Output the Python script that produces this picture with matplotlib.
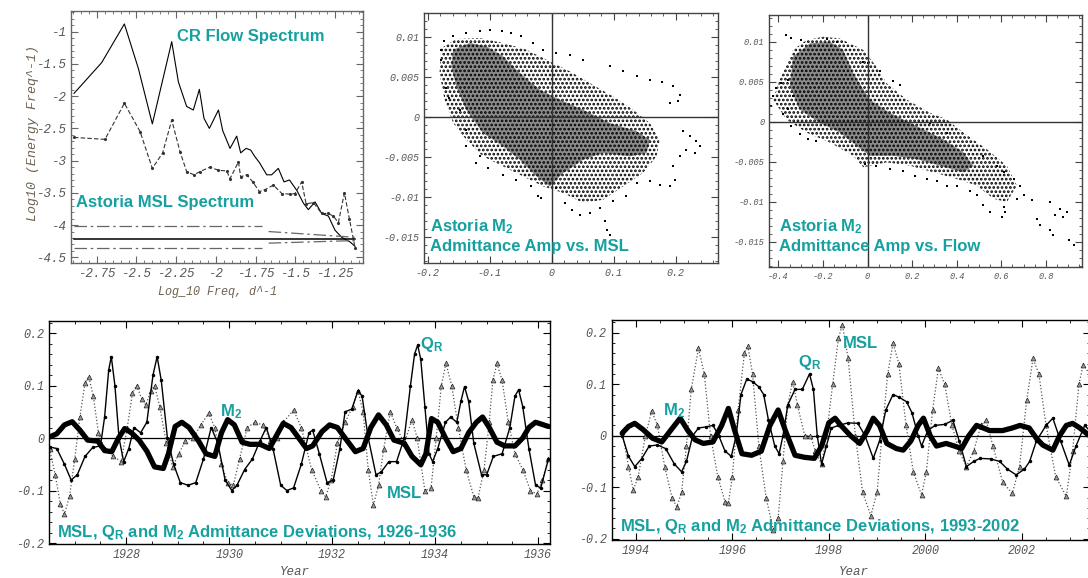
import matplotlib
matplotlib.use('Agg')
import matplotlib.pyplot as plt
from matplotlib.patches import Polygon
from matplotlib.ticker import MultipleLocator, FuncFormatter

W, H = 1088, 578
TEAL = '#16a0a0'
TICK = '#555555'

# ---------------- spectra (log10 freq, log10 energy) ----------------
flow_logf = [-2.893, -2.719, -2.576, -2.488, -2.400, -2.278, -2.236, -2.184, -2.142, -2.104,
             -2.075, -2.041, -1.984, -1.957, -1.911, -1.869, -1.844, -1.810, -1.781, -1.754,
             -1.726, -1.680, -1.649, -1.607, -1.571, -1.537, -1.491, -1.449, -1.418, -1.376,
             -1.334, -1.292, -1.250, -1.208, -1.156, -1.124]
flow_loge = [-1.957, -1.48, -0.88, -1.57, -2.43, -1.155, -1.78, -2.16, -2.215, -1.895,
             -2.344, -2.50, -2.215, -2.535, -2.81, -2.62, -2.88, -2.81, -2.836, -2.94,
             -3.03, -3.22, -3.22, -3.12, -3.33, -3.30, -3.46, -3.66, -3.76, -3.64,
             -3.82, -3.86, -4.08, -4.19, -4.26, -4.33]
msl_logf = [-2.893, -2.698, -2.576, -2.477, -2.400, -2.335, -2.278, -2.226, -2.184, -2.138,
            -2.100, -2.037, -1.984, -1.932, -1.911, -1.858, -1.844, -1.806, -1.768, -1.726,
            -1.691, -1.638, -1.585, -1.533, -1.502, -1.460, -1.432, -1.386, -1.334, -1.292,
            -1.261, -1.229, -1.191, -1.160, -1.124]
msl_loge = [-2.64, -2.67, -2.11, -2.55, -3.12, -2.88, -2.37, -2.86, -3.17, -3.22,
            -3.17, -3.10, -3.15, -3.16, -3.28, -3.02, -3.25, -3.22, -3.33, -3.48,
            -3.45, -3.38, -3.51, -3.52, -3.51, -3.33, -3.67, -3.65, -3.82, -3.82,
            -3.86, -3.96, -3.50, -3.90, -4.35]
conf_f = [-2.893, -1.124]
conf_mid = -4.216
conf_seg_f = [[-2.893, -1.712], [-1.668, -1.124]]
conf_hi_e = [[-4.015, -4.015], [-4.10, -4.19]]
conf_lo_e = [[-4.36, -4.36], [-4.28, -4.24]]

# ---------------- M2 admittance vs MSL scatter ----------------
msl_cloud = [(-0.178, 0.00858), (-0.154, 0.00971), (-0.116, 0.00983), (-0.0785, 0.00921),
             (-0.0409, 0.00838), (-0.0032, 0.00692), (0.029, 0.00567), (0.0613, 0.00421),
             (0.0989, 0.00254), (0.131, 0.000875), (0.158, -0.00079), (0.174, -0.00288),
             (0.169, -0.00496), (0.147, -0.00704), (0.115, -0.00871), (0.0828, -0.01038),
             (0.0505, -0.01079), (0.0183, -0.00954), (-0.014, -0.00871), (-0.0462, -0.00746),
             (-0.0785, -0.00621), (-0.111, -0.00496), (-0.138, -0.00288), (-0.159, -0.00079),
             (-0.173, 0.00213), (-0.181, 0.00546)]
msl_core = [(-0.159, 0.00838), (-0.132, 0.00921), (-0.105, 0.00879), (-0.0785, 0.00754),
            (-0.0516, 0.00546), (-0.0194, 0.00338), (0.0129, 0.00213), (0.0505, 0.000875),
            (0.0935, -0.00079), (0.137, -0.00183), (0.158, -0.00288), (0.153, -0.00454),
            (0.126, -0.00496), (0.0828, -0.00454), (0.0505, -0.00538), (0.0183, -0.00704),
            (-0.0032, -0.00871), (-0.0247, -0.00746), (-0.0516, -0.00538), (-0.0785, -0.00371),
            (-0.111, -0.00204), (-0.138, 0.000875), (-0.154, 0.00379), (-0.162, 0.00629)]
msl_pts = [(-0.178, 0.00713), (-0.179, 0.00838), (-0.173, 0.00942), (-0.159, 0.01004),
           (-0.138, 0.01046), (-0.116, 0.01067), (-0.100, 0.01079), (-0.081, 0.01067),
           (-0.065, 0.01046), (-0.049, 0.01004), (-0.030, 0.00921), (-0.014, 0.00838),
           (0.0075, 0.00796), (0.029, 0.00775), (0.0505, 0.00713), (0.0935, 0.00629),
           (0.115, 0.00567), (0.137, 0.00504), (0.158, 0.00463), (0.177, 0.00429),
           (0.196, 0.00379), (0.206, 0.00275), (0.204, 0.00192), (0.190, 0.00171),
           (0.212, -0.00183), (0.223, -0.00246), (0.233, -0.00308), (0.239, -0.00371),
           (0.231, -0.00454), (0.217, -0.00413), (0.206, -0.00496), (0.196, -0.00621),
           (0.198, -0.00788), (0.190, -0.00871), (0.174, -0.0085), (0.158, -0.00808),
           (0.137, -0.00829), (0.120, -0.00996), (0.099, -0.01058), (0.077, -0.01142),
           (0.061, -0.01204), (0.045, -0.01225), (0.032, -0.01163), (0.021, -0.01079),
           (0.0075, -0.00892), (-0.017, -0.01017), (-0.022, -0.00996), (-0.033, -0.00871),
           (-0.057, -0.00788), (-0.0785, -0.00725), (-0.103, -0.00642), (-0.122, -0.00579),
           (-0.148, 0.000875), (-0.165, 0.00233), (-0.171, 0.00358), (-0.138, -0.00163),
           (-0.138, -0.00371), (-0.116, -0.00496), (0.0855, -0.01308), (0.089, -0.01413),
           (0.0935, -0.01475)]

# ---------------- M2 admittance vs flow scatter ----------------
flow_cloud = [(-0.424, 0.00277), (-0.394, 0.00525), (-0.334, 0.00897), (-0.274, 0.01021),
              (-0.199, 0.01062), (-0.124, 0.01041), (-0.019, 0.00897), (0.040, 0.00690),
              (0.085, 0.00483), (0.175, 0.00277), (0.280, 0.00112), (0.355, 0.00029),
              (0.430, -0.00136), (0.535, -0.00343), (0.625, -0.00550), (0.670, -0.00798),
              (0.625, -0.01004), (0.565, -0.00963), (0.490, -0.00798), (0.400, -0.00715),
              (0.295, -0.00632), (0.190, -0.00550), (0.085, -0.00508), (-0.019, -0.00570),
              (-0.064, -0.00426), (-0.169, -0.00260), (-0.274, -0.00136), (-0.364, 0.00029)]
flow_core = [(-0.334, 0.00814), (-0.259, 0.00979), (-0.169, 0.01000), (-0.109, 0.00897),
             (-0.064, 0.00607), (0.0105, 0.00277), (0.100, 0.00112), (0.220, -0.00054),
             (0.340, -0.00219), (0.430, -0.00384), (0.475, -0.00550), (0.430, -0.00632),
             (0.325, -0.00550), (0.220, -0.00467), (0.115, -0.00426), (0.0105, -0.00426),
             (-0.049, -0.00302), (-0.124, -0.00136), (-0.214, -0.00012), (-0.304, 0.00153),
             (-0.349, 0.00442)]
flow_pts = [(-0.431, 0.00194), (-0.424, 0.00318), (-0.409, 0.00421), (-0.387, 0.00483),
            (-0.357, 0.00525), (-0.334, 0.00318), (-0.357, 0.00153), (-0.379, 0.00091),
            (-0.342, -0.00054), (-0.304, -0.00157), (-0.267, -0.00219), (-0.229, -0.00240),
            (-0.364, 0.01083), (-0.342, 0.01041), (-0.297, 0.01021), (-0.184, 0.01029),
            (-0.139, 0.01000), (-0.019, 0.00752), (0.003, 0.00731), (0.055, 0.00628),
            (0.115, 0.00504), (0.145, 0.00463), (0.280, -0.00012), (0.355, -0.00136),
            (0.520, -0.00426), (0.580, -0.00550), (0.610, -0.00632), (0.655, -0.00715),
            (0.685, -0.00798), (0.670, -0.00963), (0.700, -0.00921), (0.737, -0.00983),
            (0.760, -0.01211), (0.775, -0.01293), (0.819, -0.01004), (0.842, -0.01169),
            (0.864, -0.01087), (0.879, -0.01190), (0.894, -0.01128), (0.902, -0.01479),
            (0.924, -0.01541), (0.819, -0.01355), (0.834, -0.01417), (0.610, -0.01066),
            (0.617, -0.01128), (0.602, -0.01190), (0.550, -0.01128), (0.520, -0.01045),
            (0.490, -0.00921), (0.460, -0.00860), (0.400, -0.00798), (0.355, -0.00798),
            (0.310, -0.00736), (0.265, -0.00715), (0.213, -0.00674), (0.160, -0.00612),
            (0.100, -0.00591), (0.040, -0.00550), (-0.012, -0.00529)]

# ---------------- deviation time series 1926-1936 (year, value) ----------------
ts1_msl = [(1926.51, -0.02), (1926.62, -0.07), (1926.72, -0.125), (1926.80, -0.145), (1926.90, -0.11),
           (1927.00, -0.04), (1927.10, 0.04), (1927.20, 0.105), (1927.27, 0.117), (1927.36, 0.08),
           (1927.46, 0.01), (1927.58, -0.02), (1927.75, -0.035), (1927.90, -0.045), (1928.02, 0.02),
           (1928.12, 0.085), (1928.20, 0.10), (1928.30, 0.075), (1928.38, 0.063), (1928.48, 0.09),
           (1928.55, 0.10), (1928.65, 0.06), (1928.78, -0.01), (1928.90, -0.055), (1929.02, -0.03),
           (1929.15, -0.005), (1929.30, 0.0), (1929.45, 0.025), (1929.60, 0.047), (1929.72, 0.02),
           (1929.85, -0.05), (1929.97, -0.085), (1930.08, -0.09), (1930.20, -0.04), (1930.35, 0.02),
           (1930.50, 0.03), (1930.65, 0.025), (1930.80, -0.005), (1930.92, 0.0), (1931.05, 0.03),
           (1931.25, 0.053), (1931.40, 0.02), (1931.60, -0.06), (1931.78, -0.10), (1931.87, -0.112),
           (1931.98, -0.08), (1932.10, -0.01), (1932.25, 0.03), (1932.40, 0.06), (1932.50, 0.09),
           (1932.60, 0.05), (1932.70, -0.06), (1932.80, -0.128), (1932.90, -0.09), (1933.00, -0.02),
           (1933.13, 0.05), (1933.25, 0.02), (1933.40, -0.01), (1933.55, 0.035), (1933.65, 0.0),
           (1933.80, -0.10), (1933.92, -0.095), (1934.02, 0.0), (1934.12, 0.10), (1934.21, 0.142),
           (1934.32, 0.10), (1934.45, 0.02), (1934.60, -0.06), (1934.75, -0.112), (1934.83, -0.115),
           (1934.95, -0.06), (1935.05, 0.03), (1935.12, 0.11), (1935.20, 0.142), (1935.30, 0.11),
           (1935.42, 0.03), (1935.55, -0.03), (1935.70, -0.06), (1935.85, -0.10), (1935.98, -0.107),
           (1936.08, -0.08), (1936.20, -0.04)]
ts1_qr = [(1926.51, -0.017), (1926.65, -0.02), (1926.80, -0.05), (1926.93, -0.08), (1927.05, -0.07),
          (1927.20, -0.035), (1927.35, -0.018), (1927.50, -0.015), (1927.58, 0.04), (1927.66, 0.13),
          (1927.71, 0.155), (1927.78, 0.10), (1927.86, 0.0), (1927.95, -0.045), (1928.05, -0.02),
          (1928.15, 0.02), (1928.28, 0.01), (1928.40, 0.03), (1928.52, 0.12), (1928.60, 0.155),
          (1928.68, 0.11), (1928.80, 0.0), (1928.92, -0.05), (1929.05, -0.085), (1929.20, -0.09),
          (1929.35, -0.085), (1929.50, -0.04), (1929.65, 0.02), (1929.78, -0.01), (1929.92, -0.08),
          (1930.05, -0.10), (1930.15, -0.09), (1930.30, -0.06), (1930.45, -0.04), (1930.60, -0.005),
          (1930.72, 0.02), (1930.85, -0.02), (1931.00, -0.09), (1931.12, -0.10), (1931.25, -0.095),
          (1931.40, -0.05), (1931.55, 0.01), (1931.62, 0.015), (1931.75, -0.03), (1931.90, -0.085),
          (1932.02, -0.08), (1932.15, -0.02), (1932.25, 0.05), (1932.38, 0.055), (1932.50, 0.09),
          (1932.58, 0.08), (1932.70, 0.0), (1932.85, -0.07), (1932.95, -0.065), (1933.10, -0.045),
          (1933.25, -0.045), (1933.40, 0.0), (1933.52, 0.10), (1933.60, 0.16), (1933.66, 0.177),
          (1933.72, 0.15), (1933.80, 0.06), (1933.88, -0.03), (1933.95, -0.045), (1934.05, -0.02),
          (1934.20, 0.03), (1934.30, 0.04), (1934.42, 0.03), (1934.50, 0.07), (1934.57, 0.098),
          (1934.65, 0.07), (1934.75, -0.01), (1934.90, -0.07), (1935.00, -0.07), (1935.13, -0.035),
          (1935.30, -0.03), (1935.45, 0.02), (1935.55, 0.08), (1935.62, 0.092), (1935.70, 0.06),
          (1935.82, -0.02), (1935.95, -0.09), (1936.05, -0.095), (1936.20, -0.04)]
ts1_m2 = [(1926.51, 0.002), (1926.65, 0.008), (1926.80, 0.025), (1926.95, 0.031), (1927.10, 0.015),
          (1927.25, -0.004), (1927.45, -0.006), (1927.58, -0.024), (1927.72, -0.026), (1927.85, 0.0),
          (1927.97, 0.018), (1928.10, 0.01), (1928.25, -0.004), (1928.40, -0.025), (1928.55, -0.055),
          (1928.72, -0.058), (1928.82, -0.03), (1928.95, 0.022), (1929.08, 0.03), (1929.22, 0.02),
          (1929.40, -0.005), (1929.55, -0.03), (1929.72, -0.035), (1929.85, 0.01), (1929.97, 0.035),
          (1930.10, 0.025), (1930.25, -0.008), (1930.40, -0.012), (1930.60, -0.012), (1930.78, -0.02),
          (1930.92, 0.005), (1931.05, 0.028), (1931.20, 0.02), (1931.35, 0.0), (1931.50, -0.02),
          (1931.62, -0.015), (1931.80, 0.012), (1931.95, 0.025), (1932.10, 0.02), (1932.25, 0.0),
          (1932.45, -0.026), (1932.60, -0.02), (1932.75, 0.02), (1932.90, 0.044), (1933.05, 0.025),
          (1933.20, -0.004), (1933.40, -0.01), (1933.55, -0.035), (1933.72, -0.051), (1933.82, -0.03),
          (1933.93, 0.037), (1934.05, 0.03), (1934.20, 0.0), (1934.35, -0.026), (1934.50, -0.02),
          (1934.65, 0.01), (1934.80, 0.03), (1934.92, 0.04), (1935.05, 0.02), (1935.20, -0.008),
          (1935.35, -0.015), (1935.55, -0.015), (1935.70, 0.0), (1935.82, 0.02), (1935.95, 0.03),
          (1936.20, 0.022)]

# ---------------- deviation time series 1993-2003 (year, value) ----------------
ts2_msl = [(1993.72, 0.008), (1993.85, -0.06), (1993.95, -0.105), (1994.05, -0.08), (1994.20, 0.0),
           (1994.33, 0.048), (1994.45, 0.02), (1994.60, -0.06), (1994.75, -0.12), (1994.85, -0.138),
           (1994.95, -0.11), (1995.05, -0.02), (1995.15, 0.09), (1995.30, 0.17), (1995.42, 0.12),
           (1995.55, 0.0), (1995.70, -0.08), (1995.85, -0.128), (1995.92, -0.13), (1996.00, -0.08),
           (1996.12, 0.05), (1996.25, 0.16), (1996.32, 0.175), (1996.42, 0.12), (1996.55, -0.02),
           (1996.70, -0.12), (1996.85, -0.183), (1996.95, -0.16), (1997.05, -0.05), (1997.15, 0.06),
           (1997.25, 0.105), (1997.35, 0.06), (1997.50, 0.0), (1997.62, 0.0), (1997.72, -0.03),
           (1997.85, -0.055), (1997.95, 0.0), (1998.08, 0.10), (1998.20, 0.19), (1998.28, 0.215),
           (1998.40, 0.15), (1998.55, 0.0), (1998.70, -0.11), (1998.87, -0.155), (1999.00, -0.11),
           (1999.10, 0.0), (1999.22, 0.12), (1999.33, 0.18), (1999.45, 0.14), (1999.60, 0.02),
           (1999.75, -0.07), (1999.92, -0.115), (2000.02, -0.07), (2000.15, 0.05), (2000.27, 0.131),
           (2000.40, 0.10), (2000.55, 0.02), (2000.70, -0.03), (2000.85, -0.06), (2001.00, -0.03),
           (2001.15, 0.02), (2001.26, 0.03), (2001.40, -0.02), (2001.60, -0.09), (2001.80, -0.112),
           (2001.95, -0.06), (2002.10, 0.07), (2002.23, 0.15), (2002.35, 0.12), (2002.50, 0.02),
           (2002.70, -0.08), (2002.92, -0.118), (2003.05, -0.03), (2003.18, 0.10), (2003.27, 0.138),
           (2003.40, 0.12)]
ts2_qr = [(1993.72, 0.0), (1993.85, -0.04), (1993.98, -0.06), (1994.12, -0.045), (1994.28, -0.02),
          (1994.45, -0.018), (1994.62, -0.025), (1994.80, -0.055), (1994.95, -0.07), (1995.05, -0.05),
          (1995.18, 0.0), (1995.30, 0.015), (1995.45, 0.017), (1995.60, 0.02), (1995.72, 0.0),
          (1995.85, -0.03), (1995.98, -0.04), (1996.08, 0.0), (1996.18, 0.08), (1996.30, 0.11),
          (1996.42, 0.105), (1996.55, 0.095), (1996.65, 0.08), (1996.75, 0.03), (1996.88, -0.02),
          (1996.97, -0.035), (1997.05, 0.0), (1997.15, 0.06), (1997.30, 0.09), (1997.45, 0.09),
          (1997.60, 0.12), (1997.68, 0.09), (1997.76, 0.0), (1997.85, -0.055), (1997.95, -0.02),
          (1998.05, 0.015), (1998.20, 0.02), (1998.40, 0.025), (1998.60, 0.024), (1998.75, 0.0),
          (1998.92, -0.044), (1999.05, -0.01), (1999.18, 0.05), (1999.33, 0.08), (1999.45, 0.075),
          (1999.61, 0.066), (1999.72, 0.045), (1999.85, 0.0), (1999.92, -0.02), (2000.05, 0.01),
          (2000.20, 0.02), (2000.40, 0.022), (2000.57, 0.03), (2000.70, -0.01), (2000.85, -0.06),
          (2001.00, -0.05), (2001.13, -0.044), (2001.35, -0.045), (2001.54, -0.05), (2001.70, -0.065),
          (2001.88, -0.076), (2002.05, -0.065), (2002.16, -0.05), (2002.30, -0.01), (2002.50, 0.02),
          (2002.64, 0.034), (2002.80, -0.01), (2002.98, -0.057), (2003.12, -0.02), (2003.30, 0.02),
          (2003.40, 0.01)]
ts2_m2 = [(1993.72, 0.005), (1993.85, 0.018), (1993.98, 0.024), (1994.15, 0.012), (1994.35, -0.005),
          (1994.54, -0.012), (1994.72, 0.01), (1994.92, 0.034), (1995.08, 0.01), (1995.23, -0.008),
          (1995.40, -0.015), (1995.60, -0.012), (1995.78, 0.02), (1995.92, 0.053), (1996.05, 0.01),
          (1996.20, -0.035), (1996.40, -0.038), (1996.60, -0.03), (1996.78, 0.02), (1996.95, 0.05),
          (1997.10, 0.01), (1997.30, -0.038), (1997.50, -0.042), (1997.70, -0.044), (1997.85, -0.02),
          (1998.00, 0.025), (1998.13, 0.034), (1998.25, 0.02), (1998.45, 0.0), (1998.64, -0.015),
          (1998.80, 0.01), (1998.92, 0.034), (1999.05, 0.02), (1999.20, -0.015), (1999.40, -0.025),
          (1999.54, -0.028), (1999.70, -0.01), (1999.85, 0.02), (1999.96, 0.034), (2000.10, 0.0),
          (2000.23, -0.02), (2000.43, -0.015), (2000.60, -0.02), (2000.75, -0.025), (2000.90, 0.0),
          (2001.06, 0.02), (2001.20, 0.015), (2001.33, 0.01), (2001.60, 0.01), (2001.80, 0.015),
          (2001.96, 0.02), (2002.15, 0.015), (2002.30, -0.005), (2002.43, -0.018), (2002.64, -0.028),
          (2002.78, 0.0), (2002.92, 0.02), (2003.05, 0.024), (2003.20, 0.015), (2003.40, 0.0)]

plt.rcParams['font.family'] = 'Liberation Mono'
plt.rcParams['mathtext.fontset'] = 'custom'
plt.rcParams['mathtext.rm'] = 'Liberation Sans:bold'
plt.rcParams['mathtext.it'] = 'Liberation Sans:bold'
plt.rcParams['mathtext.bf'] = 'Liberation Sans:bold'
plt.rcParams['hatch.linewidth'] = 1.3

fig = plt.figure(figsize=(W / 100, H / 100), dpi=100)


def add_ax(l, t, r, b):
    return fig.add_axes([l / W, 1 - b / H, (r - l) / W, (b - t) / H])


def fmt(v, pos):
    if abs(v) < 1e-9:
        return '0'
    return '%g' % round(v, 6)


def frame(ax, xmaj, xmin, ymaj, ymin, size, color='black'):
    ax.xaxis.set_major_locator(MultipleLocator(xmaj))
    ax.xaxis.set_minor_locator(MultipleLocator(xmin))
    ax.yaxis.set_major_locator(MultipleLocator(ymaj))
    ax.yaxis.set_minor_locator(MultipleLocator(ymin))
    ax.xaxis.set_major_formatter(FuncFormatter(fmt))
    ax.yaxis.set_major_formatter(FuncFormatter(fmt))
    ax.tick_params(which='both', direction='in', top=True, right=True,
                   color=color, labelcolor=TICK, labelsize=size)
    ax.tick_params(which='major', length=5, width=0.8)
    ax.tick_params(which='minor', length=2.5, width=0.6)
    for s in ax.spines.values():
        s.set_color(color)
        s.set_linewidth(1.0)
    for lab in ax.get_xticklabels() + ax.get_yticklabels():
        lab.set_fontstyle('italic')


def note(x, y, s, size=12):
    fig.text(x / W, 1 - y / H, s, color=TEAL, fontsize=size, family='Liberation Sans',
             fontweight='bold', ha='left', va='center')


# spectrum panel
ax1 = add_ax(71, 11, 363, 263)
ax1.plot(flow_logf, flow_loge, color='black', lw=0.8)
ax1.plot(msl_logf, msl_loge, color='#333333', lw=0.8, ls=(0, (4, 2)), marker='.', ms=2.5)
ax1.plot(conf_f, [conf_mid, conf_mid], color='black', lw=1.1)
for fs, hi, lo in zip(conf_seg_f, conf_hi_e, conf_lo_e):
    ax1.plot(fs, hi, color='#666666', lw=0.9, ls=(0, (10, 3, 2, 3)))
    ax1.plot(fs, lo, color='#666666', lw=0.9, ls=(0, (10, 3, 2, 3)))
ax1.set_xlim(-2.912, -1.074)
ax1.set_ylim(-4.588, -0.679)
frame(ax1, 0.25, 0.05, 0.5, 0.1, 9, color='#666666')
fig.text(218 / W, 1 - 292 / H, 'Log_10 Freq, d^-1', fontsize=8.5, style='italic',
         color='#6e6253', ha='center', va='center')
fig.text(33 / W, 1 - 133 / H, 'Log10 (Energy Freq^-1)', fontsize=9.5, style='italic',
         color='#6e6253', ha='center', va='center', rotation=90)
note(177, 37, 'CR Flow Spectrum')
note(76, 202, 'Astoria MSL Spectrum')


def cloud(ax, outer, core, pts):
    # dotted texture stands in for the dense point cloud, outlines
    ax.add_patch(Polygon(outer, closed=True, facecolor='none', edgecolor='black',
                         linewidth=0, hatch='....'))
    ax.add_patch(Polygon(core, closed=True, facecolor='#8c8c8c', edgecolor='black',
                         linewidth=0, hatch='....'))
    px, py = zip(*pts)
    ax.scatter(px, py, s=3, c='black', marker='s', linewidths=0)
    ax.axhline(0, color='#333333', lw=1.0)
    ax.axvline(0, color='#333333', lw=1.0)


ax2 = add_ax(424, 13, 718, 263)
cloud(ax2, msl_cloud, msl_core, msl_pts)
ax2.set_xlim(-0.206, 0.268)
ax2.set_ylim(-0.01829, 0.01296)
frame(ax2, 0.1, 0.02, 0.005, 0.001, 7.2, color='#444444')
note(430, 227, r'Astoria M$_\mathrm{2}$')
note(430, 246, 'Admittance Amp vs. MSL')

ax3 = add_ax(769, 15, 1082, 267)
cloud(ax3, flow_cloud, flow_core, flow_pts)
ax3.set_xlim(-0.442, 0.962)
ax3.set_ylim(-0.01816, 0.01334)
frame(ax3, 0.2, 0.05, 0.005, 0.001, 6.2, color='#444444')
note(779, 227, r'Astoria M$_\mathrm{2}$')
note(779, 246, 'Admittance Amp vs. Flow')


def series(ax, msl, qr, m2):
    ax.axhline(0, color='black', lw=0.9)
    yr, v = zip(*msl)
    ax.plot(yr, v, color='#555555', ls=':', lw=0.9, marker='^', ms=3.5,
            mfc='#999999', mec='#222222', mew=0.5)
    yr, v = zip(*qr)
    ax.plot(yr, v, color='black', lw=1.0, marker='.', ms=3)
    yr, v = zip(*m2)
    ax.plot(yr, v, color='black', lw=3.8, solid_joinstyle='round', solid_capstyle='round')


ax4 = add_ax(49, 321, 550, 544)
series(ax4, ts1_msl, ts1_qr, ts1_m2)
ax4.set_xlim(1926.50, 1936.23)
ax4.set_ylim(-0.2019, 0.2229)
frame(ax4, 2, 0.5, 0.1, 0.02, 8.5)
note(57, 533, r'MSL, Q$_\mathrm{R}$ and M$_\mathrm{2}$ Admittance Deviations, 1926-1936')
note(420, 345, r'Q$_\mathrm{R}$')
note(387, 494, 'MSL')
note(220, 412, r'M$_\mathrm{2}$')
fig.text(295 / W, 1 - 572 / H, 'Year', fontsize=9, style='italic', color=TICK,
         ha='center', va='center')

ax5 = add_ax(611.6, 320, 1090, 540)
series(ax5, ts2_msl, ts2_qr, ts2_m2)
ax5.set_xlim(1993.5, 2003.41)
ax5.set_ylim(-0.2025, 0.2247)
frame(ax5, 2, 0.5, 0.1, 0.02, 8.5)
note(620, 526, r'MSL, Q$_\mathrm{R}$ and M$_\mathrm{2}$ Admittance Deviations, 1993-2002')
note(798, 362, r'Q$_\mathrm{R}$')
note(843, 343, 'MSL')
note(663, 411, r'M$_\mathrm{2}$')
fig.text(854 / W, 1 - 572 / H, 'Year', fontsize=9, style='italic', color=TICK,
         ha='center', va='center')

fig.savefig('out.png', dpi=100)
